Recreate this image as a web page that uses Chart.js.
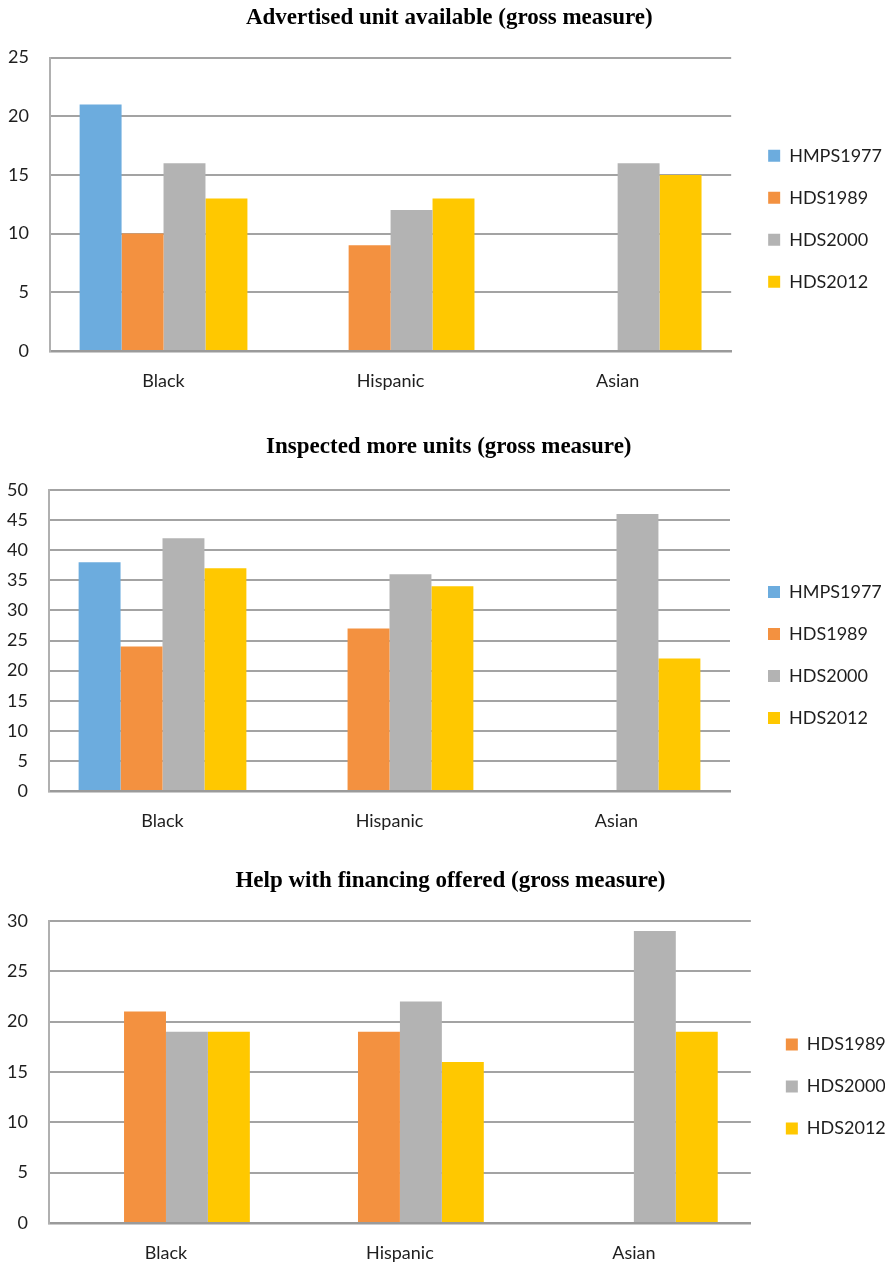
<!DOCTYPE html>
<html>
<head>
<meta charset="utf-8" />
<title>Gross measures by tester group</title>
<script src="https://cdn.jsdelivr.net/npm/chart.js@4"></script>
<style>
  html, body { margin: 0; padding: 0; background: #fff; overflow: hidden; }
  .box { position: absolute; left: 0; }
</style>
</head>
<body>

<div class="box" style="top:0px"><canvas id="chart1" width="904" height="400"></canvas></div>
<div class="box" style="top:429px"><canvas id="chart2" width="904" height="411"></canvas></div>
<div class="box" style="top:863px"><canvas id="chart3" width="904" height="409"></canvas></div>

<script>
// categories and series
var categories = ['Black', 'Hispanic', 'Asian'];
var seriesNames = ['HMPS1977', 'HDS1989', 'HDS2000', 'HDS2012'];
var seriesColors = ['#6cacde', '#f39140', '#b3b3b3', '#ffc800'];

// Advertised unit available (gross measure)
var advHMPS1977 = [21, null, null];
var advHDS1989 = [10, 9, null];
var advHDS2000 = [16, 12, 16];
var advHDS2012 = [13, 13, 15];
var advTicks = [0, 5, 10, 15, 20, 25];

// Inspected more units (gross measure)
var inspHMPS1977 = [38, null, null];
var inspHDS1989 = [24, 27, null];
var inspHDS2000 = [42, 36, 46];
var inspHDS2012 = [37, 34, 22];
var inspTicks = [0, 5, 10, 15, 20, 25, 30, 35, 40, 45, 50];

// Help with financing offered (gross measure)
var finHMPS1977 = [null, null, null];   // not in this measure, only keeps the empty slot
var finHDS1989 = [21, 19, null];
var finHDS2000 = [19, 22, 29];
var finHDS2012 = [19, 16, 19];
var finTicks = [0, 5, 10, 15, 20, 25, 30];

var gridGray = '#a3a3a3';
var textColor = '#1e1e1e';
var tickFont = { family: 'Lato', size: 18 };

function makeDatasets(valueLists) {
    return valueLists.map(function(vals, i) {
        return {
            label: seriesNames[i],
            data: vals,
            backgroundColor: seriesColors[i],
            borderWidth: 0,
            barPercentage: 1
        };
    });
}

function makeChart(id, title, valueLists, ticks, opt) {
    return new Chart(id, {
        type: 'bar',
        data: {
            labels: categories,
            datasets: makeDatasets(valueLists)
        },
        options: {
            responsive: false,
            animation: false,
            devicePixelRatio: 1,
            categoryPercentage: opt.catPct,
            layout: { padding: { left: opt.padL, right: opt.padR, top: 0, bottom: 0 } },
            plugins: {
                tooltip: { enabled: false },
                title: {
                    display: true,
                    text: title,
                    color: '#000',
                    font: { family: 'Liberation Serif', size: 23, weight: 'bold' },
                    padding: { top: 4.2, bottom: opt.titleGap }
                },
                legend: {
                    position: 'right',
                    fullSize: false,
                    // empty title only pushes the entries a bit below centre
                    title: { display: true, text: '', font: { size: 1 }, padding: { top: 28, bottom: 0 } },
                    labels: {
                        boxWidth: 12,
                        boxHeight: 12,
                        padding: 24,
                        color: textColor,
                        font: tickFont,
                        filter: function(item) { return opt.hideFirst ? item.datasetIndex > 0 : true; }
                    }
                }
            },
            scales: {
                x: {
                    grid: { display: false, drawTicks: false },
                    border: { display: true, color: '#9a9a9a', width: 2.5 },
                    ticks: { color: textColor, font: tickFont, padding: 19 },
                    afterFit: function(s) { s.height = 49; }
                },
                y: {
                    min: ticks[0],
                    max: ticks[ticks.length - 1],
                    afterBuildTicks: function(s) { s.ticks = ticks.map(function(v) { return { value: v }; }); },
                    grid: { color: gridGray, lineWidth: 2, drawTicks: false },
                    border: { display: true, color: '#b0b0b0', width: 2 },
                    ticks: { color: textColor, font: tickFont, padding: 21 },
                    afterFit: function(s) { s.width = opt.left - opt.padL; }
                },
                y2: {
                    position: 'right',
                    grid: { display: false, drawTicks: false },
                    border: { display: false },
                    ticks: { display: false },
                    afterFit: function(s) { s.width = opt.rightGap; }
                }
            }
        }
    });
}

makeChart('chart1', 'Advertised unit available (gross measure)',
    [advHMPS1977, advHDS1989, advHDS2000, advHDS2012], advTicks,
    { catPct: 0.739, titleGap: 25.7, padL: 7, padR: 12.4, rightGap: 13, left: 50, hideFirst: false });

makeChart('chart2', 'Inspected more units (gross measure)',
    [inspHMPS1977, inspHDS1989, inspHDS2000, inspHDS2012], inspTicks,
    { catPct: 0.739, titleGap: 29.2, padL: 6, padR: 12.4, rightGap: 14, left: 49, hideFirst: false });

makeChart('chart3', 'Help with financing offered (gross measure)',
    [finHMPS1977, finHDS1989, finHDS2000, finHDS2012], finTicks,
    { catPct: 0.717, titleGap: 26.2, padL: 5, padR: 8.2, rightGap: 11, left: 49, hideFirst: true });
</script>
</body>
</html>
